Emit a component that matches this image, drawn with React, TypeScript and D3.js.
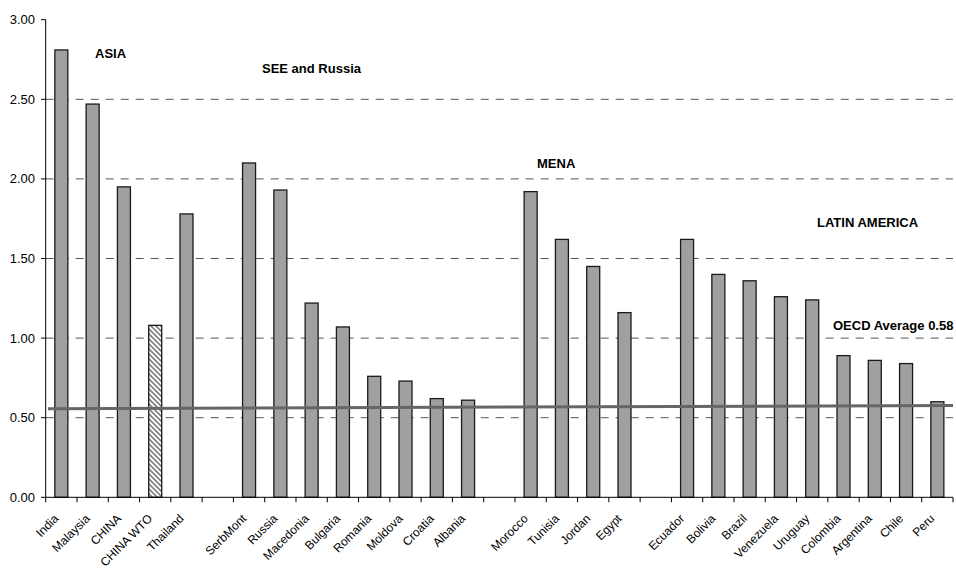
import React from "react";
import * as d3 from "d3";

const categories = [
  "India", "Malaysia", "CHINA", "CHINA WTO", "Thailand", "",
  "SerbMont", "Russia", "Macedonia", "Bulgaria", "Romania", "Moldova", "Croatia", "Albania", "",
  "Morocco", "Tunisia", "Jordan", "Egypt", "",
  "Ecuador", "Bolivia", "Brazil", "Venezuela", "Uruguay", "Colombia", "Argentina", "Chile", "Peru",
];
const values: (number | null)[] = [
  2.81, 2.47, 1.95, 1.08, 1.78, null,
  2.10, 1.93, 1.22, 1.07, 0.76, 0.73, 0.62, 0.61, null,
  1.92, 1.62, 1.45, 1.16, null,
  1.62, 1.40, 1.36, 1.26, 1.24, 0.89, 0.86, 0.84, 0.60,
];
const hatched = ["CHINA WTO"];
const oecdLine = [0.556, 0.577];
const yTicks = [0, 0.5, 1.0, 1.5, 2.0, 2.5, 3.0];
const gridTicks = [0.5, 1.0, 1.5, 2.0, 2.5];
const groupLabels = ["ASIA", "SEE and Russia", "MENA", "LATIN AMERICA", "OECD Average 0.58"];

const W = 956;
const H = 571;
const font = "'Liberation Sans', Arial, sans-serif";

export default function App() {
  const slots = categories.map((_, i) => String(i));
  const x = d3.scaleBand<string>().domain(slots).range([45.7, 953]).paddingInner(0).paddingOuter(0);
  const y = d3.scaleLinear().domain([0, 3]).range([497.3, 19.7]);
  const bw = x.bandwidth();
  const barW = 13;
  const labelPos: [number, number][] = [
    [95, 58],
    [262, 73],
    [537, 168],
    [817, 227],
    [833, 330],
  ];
  const boundaries = d3.range(categories.length + 1).map((i) => 45.7 + i * bw);
  const oecd = d3.line<number>()
    .x((_, i) => (i === 0 ? 48 : 953))
    .y((d) => y(d));

  return (
    <svg width={W} height={H} style={{ position: "absolute", left: 0, top: 0, background: "#fff" }}>
      <defs>
        <pattern id="hatch" patternUnits="userSpaceOnUse" width="5" height="5">
          <rect width="5" height="5" fill="#fff" />
          <path d="M-1,-1 L6,6 M-1,4 L1,6 M4,-1 L6,1" stroke="#808080" strokeWidth="1.6" />
        </pattern>
      </defs>
      {gridTicks.map((t) => (
        <line key={t} x1={45.7} x2={953} y1={y(t)} y2={y(t)} stroke="#555" strokeWidth={1} strokeDasharray="8,7" />
      ))}
      {categories.map((c, i) => {
        const v = values[i];
        if (v == null) return null;
        const bx = (x(String(i)) as number) + (bw - barW) / 2;
        return (
          <rect
            key={i}
            x={bx}
            y={y(v)}
            width={barW}
            height={y(0) - y(v)}
            fill={hatched.includes(c) ? "url(#hatch)" : "#a0a0a0"}
            stroke="#1a1a1a"
            strokeWidth={1.3}
          />
        );
      })}
      <path d={oecd(oecdLine) || ""} stroke="#666" strokeWidth={3} fill="none" />
      {/* y axis */}
      <line x1={45.7} x2={45.7} y1={y(3)} y2={y(0)} stroke="#000" strokeWidth={1} />
      {yTicks.map((t) => (
        <g key={t}>
          <line x1={41} x2={45.7} y1={y(t)} y2={y(t)} stroke="#000" />
          <text x={35} y={y(t)} dy="0.35em" textAnchor="end" fontFamily={font} fontSize={13} fill="#000">
            {t.toFixed(2)}
          </text>
        </g>
      ))}
      {/* x axis */}
      <line x1={45.7} x2={953} y1={y(0)} y2={y(0)} stroke="#000" strokeWidth={1} />
      {boundaries.map((b, i) => (
        <line key={i} x1={b} x2={b} y1={y(0)} y2={y(0) + 5} stroke="#000" />
      ))}
      {categories.map((c, i) =>
        c ? (
          <text
            key={i}
            transform={`translate(${(x(String(i)) as number) + bw / 2 - 5},${y(0) + 19}) rotate(-45)`}
            textAnchor="end"
            dy="0.35em"
            fontFamily={font}
            fontSize={12}
            fill="#000"
          >
            {c}
          </text>
        ) : null
      )}
      {groupLabels.map((g, i) => (
        <text key={g} x={labelPos[i][0]} y={labelPos[i][1]} fontFamily={font} fontSize={13} fontWeight="bold" fill="#000">
          {g}
        </text>
      ))}
    </svg>
  );
}
